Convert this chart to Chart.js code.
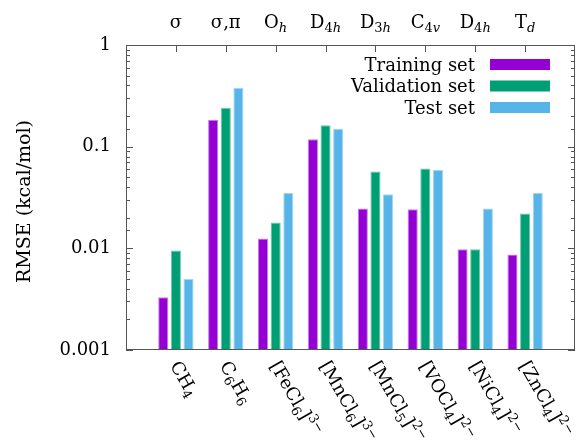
<!DOCTYPE html>
<html>
<head>
<meta charset="utf-8">
<script src="https://cdn.jsdelivr.net/npm/chart.js@4.4.1/dist/chart.umd.min.js"></script>
<style>
  html, body { margin: 0; padding: 0; background: #fff; }
</style>
</head>
<body>
<canvas id="chart" width="580" height="443"></canvas>
<script>
// data
var categories = ['CH_4', 'C_6H_6', '[FeCl_6]^{3−}', '[MnCl_6]^{3−}', '[MnCl_5]^{2−}', '[VOCl_4]^{2−}', '[NiCl_4]^{2−}', '[ZnCl_4]^{2−}'];
var symmetry = ['σ', 'σ,π', 'O_h', 'D_{4h}', 'D_{3h}', 'C_{4v}', 'D_{4h}', 'T_d'];
var trainingSet = [0.0033, 0.184, 0.0125, 0.118, 0.0246, 0.0242, 0.0098, 0.0087];
var validationSet = [0.0095, 0.240, 0.018, 0.162, 0.057, 0.061, 0.0098, 0.022];
var testSet = [0.0050, 0.380, 0.035, 0.150, 0.034, 0.059, 0.0246, 0.035];
var yTickLabels = [1, 0.1, 0.01, 0.001];

var FAM = '"DejaVu Serif", serif';
var FS = 18;

// tiny markup: _x or _{..} subscript, ^x or ^{..} superscript
function parseRich(s) {
  var parts = [], i = 0;
  while (i < s.length) {
    var c = s[i];
    if (c === '_' || c === '^') {
      var j = i + 1, t;
      if (s[j] === '{') { var k = s.indexOf('}', j); t = s.slice(j + 1, k); i = k + 1; }
      else { t = s[j]; i = j + 1; }
      parts.push({ t: t, k: c === '_' ? 'sub' : 'sup' });
    } else {
      var j = i;
      while (j < s.length && s[j] !== '_' && s[j] !== '^') j++;
      parts.push({ t: s.slice(i, j), k: 'n' });
      i = j;
    }
  }
  return parts;
}

function drawRich(ctx, str, x, y, size, doDraw) {
  var parts = parseRich(str), cx = x;
  parts.forEach(function (p) {
    if (p.k === 'n') {
      ctx.font = size + 'px ' + FAM;
      if (doDraw) ctx.fillText(p.t, cx, y);
      cx += ctx.measureText(p.t).width;
    } else {
      var s = Math.round(size * 0.7);
      var dy = p.k === 'sub' ? size * 0.22 : -size * 0.42;
      for (var n = 0; n < p.t.length; n++) {
        var ch = p.t[n];
        ctx.font = (/[a-z]/.test(ch) ? 'italic ' : '') + s + 'px ' + FAM;
        if (doDraw) ctx.fillText(ch, cx, y + dy);
        cx += ctx.measureText(ch).width;
      }
    }
  });
  return cx - x;
}

var decorations = {
  id: 'decorations',
  afterDraw: function (chart) {
    var ctx = chart.ctx, ca = chart.chartArea;
    var xs = chart.scales.x, ys = chart.scales.y;
    ctx.save();
    ctx.strokeStyle = '#555';
    ctx.lineWidth = 1;
    ctx.strokeRect(ca.left + 0.5, ca.top + 0.5, ca.right - ca.left - 1, ca.bottom - ca.top - 1);

    // inward log ticks, both sides
    ctx.beginPath();
    ys.ticks.forEach(function (t) {
      var py = Math.round(ys.getPixelForValue(t.value)) + 0.5;
      var lg = Math.log10(t.value);
      var len = Math.abs(lg - Math.round(lg)) < 1e-6 ? 7 : 4;
      ctx.moveTo(ca.left, py); ctx.lineTo(ca.left + len, py);
      ctx.moveTo(ca.right, py); ctx.lineTo(ca.right - len, py);
    });
    // top ticks at categories
    for (var i = 0; i < categories.length; i++) {
      var px = Math.round(xs.getPixelForValue(i + 1)) + 0.5;
      ctx.moveTo(px, ca.top); ctx.lineTo(px, ca.top + 7);
    }
    ctx.stroke();

    ctx.fillStyle = '#000';
    ctx.textBaseline = 'alphabetic';
    ctx.textAlign = 'left';

    // symmetry labels on top
    symmetry.forEach(function (s, i) {
      var px = xs.getPixelForValue(i + 1);
      var w = drawRich(ctx, s, 0, 0, FS, false);
      drawRich(ctx, s, px - w / 2, ca.top - 17, FS, true);
    });

    // rotated category labels
    categories.forEach(function (s, i) {
      var px = xs.getPixelForValue(i + 1);
      ctx.save();
      ctx.translate(px + 5, ca.bottom + 9);
      ctx.rotate(Math.PI / 3);
      drawRich(ctx, s, 0, 13, FS, true);
      ctx.restore();
    });

    // y title
    ctx.save();
    ctx.translate(30, (ca.top + ca.bottom) / 2 + 4);
    ctx.rotate(-Math.PI / 2);
    ctx.textAlign = 'center';
    ctx.font = '19px ' + FAM;
    ctx.fillText('RMSE (kcal/mol)', 0, 0);
    ctx.restore();

    // legend
    chart.data.datasets.forEach(function (ds, k) {
      var cy = ca.top + 19.5 + k * 21.5;
      ctx.fillStyle = ds.backgroundColor;
      ctx.fillRect(490, cy - 5.5, 60, 11);
      ctx.fillStyle = '#000';
      ctx.font = FS + 'px ' + FAM;
      ctx.textAlign = 'right';
      ctx.fillText(ds.label, 475, cy + 6);
    });
    ctx.restore();
  }
};

function pad(a) { return [null].concat(a, [null]); }

new Chart(document.getElementById('chart'), {
  type: 'bar',
  data: {
    labels: [''].concat(categories, ['']),
    datasets: [
      { label: 'Training set', data: pad(trainingSet), backgroundColor: '#9400d3', borderColor: '#c77ee9', borderWidth: 1 },
      { label: 'Validation set', data: pad(validationSet), backgroundColor: '#009e73', borderColor: '#6cc7ad', borderWidth: 1 },
      { label: 'Test set', data: pad(testSet), backgroundColor: '#56b4e9', borderColor: '#a3d6f3', borderWidth: 1 }
    ]
  },
  options: {
    responsive: false,
    animation: false,
    devicePixelRatio: 1,
    categoryPercentage: 0.76,
    barPercentage: 0.8,
    layout: { padding: { top: 45, right: 5, bottom: 93, left: 0 } },
    plugins: { legend: { display: false }, tooltip: { enabled: false } },
    scales: {
      x: {
        offset: false,
        grid: { display: false, drawTicks: false },
        border: { display: false },
        ticks: { display: false },
        afterFit: function (s) { s.height = 0; }
      },
      y: {
        type: 'logarithmic',
        min: 0.001,
        max: 1,
        grid: { display: false, drawTicks: false },
        border: { display: false },
        ticks: {
          autoSkip: false,
          padding: 15,
          color: '#000',
          font: { family: FAM, size: FS },
          callback: function (v) {
            var hit = yTickLabels.filter(function (t) { return Math.abs(Math.log10(t) - Math.log10(v)) < 1e-6; });
            return hit.length ? String(hit[0]) : '';
          }
        },
        afterFit: function (s) { s.width = 126; }
      }
    }
  },
  plugins: [decorations]
});
</script>
</body>
</html>
